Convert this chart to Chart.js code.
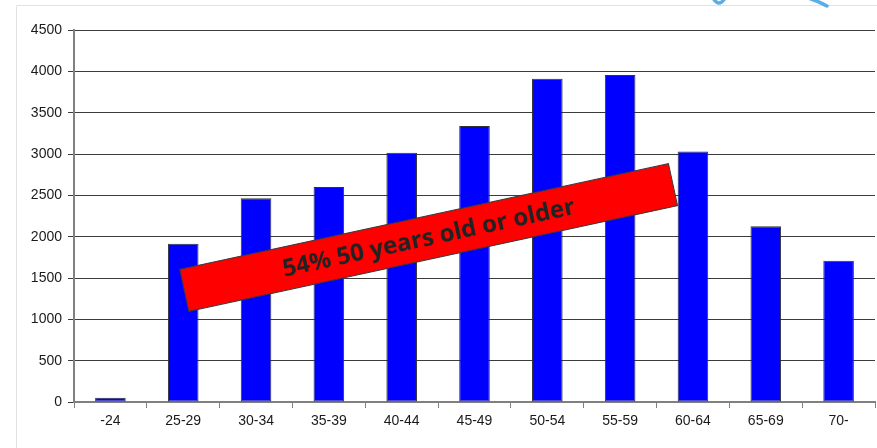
<!DOCTYPE html>
<html>
<head>
<meta charset="utf-8">
<script src="https://cdn.jsdelivr.net/npm/chart.js@4/dist/chart.umd.min.js"></script>
<style>
  html, body { margin: 0; padding: 0; background: #ffffff; }
  #wrap { width: 877px; height: 448px; position: relative; }
</style>
</head>
<body>
<div id="wrap"><canvas id="c" width="877" height="448"></canvas></div>
<script>
// ---- data ----
const categories = ["-24", "25-29", "30-34", "35-39", "40-44", "45-49", "50-54", "55-59", "60-64", "65-69", "70-"];
const counts = [50, 1915, 2465, 2600, 3015, 3340, 3910, 3955, 3030, 2125, 1710];
const yTicks = [0, 500, 1000, 1500, 2000, 2500, 3000, 3500, 4000, 4500];
const bannerText = "54% 50 years old or older";

const decoPlugin = {
  id: 'deco',
  beforeDraw(chart) {
    const ctx = chart.ctx;
    ctx.save();
    ctx.fillStyle = '#ffffff';
    ctx.fillRect(0, 0, chart.width, chart.height);
    // frame
    ctx.strokeStyle = '#e2e2e2';
    ctx.lineWidth = 1;
    ctx.beginPath();
    ctx.moveTo(16.5, chart.height);
    ctx.lineTo(16.5, 5.5);
    ctx.lineTo(chart.width, 5.5);
    ctx.stroke();
    // partial logo strokes at top
    ctx.strokeStyle = 'rgba(60,160,225,0.85)';
    ctx.lineWidth = 3.5;
    ctx.lineCap = 'round';
    ctx.beginPath();
    ctx.moveTo(713, -2); ctx.quadraticCurveTo(719, 8, 725, -2);
    ctx.stroke();
    ctx.beginPath();
    ctx.moveTo(808, -2); ctx.quadraticCurveTo(818, 1, 827, 6);
    ctx.stroke();
    ctx.restore();
  },
  afterDraw(chart) {
    const ctx = chart.ctx;
    const xs = chart.scales.x, ys = chart.scales.y;
    const cx = xs.getPixelForValue(4) + 0.37 * (xs.getPixelForValue(5) - xs.getPixelForValue(4));
    const cy = ys.getPixelForValue(1990);
    const w = 500, h = 43;
    ctx.save();
    ctx.translate(cx, cy);
    ctx.rotate(-12.2 * Math.PI / 180);
    ctx.fillStyle = '#ff0000';
    ctx.strokeStyle = '#3a3a3a';
    ctx.lineWidth = 1;
    ctx.fillRect(-w / 2, -h / 2, w, h);
    ctx.strokeRect(-w / 2, -h / 2, w, h);
    ctx.fillStyle = '#222222';
    ctx.font = 'bold 24px "Open Sans", "Noto Sans", sans-serif';
    ctx.textAlign = 'center';
    ctx.textBaseline = 'middle';
    ctx.fillText(bannerText, 0, 1);
    ctx.restore();
  }
};

new Chart(document.getElementById('c'), {
  type: 'bar',
  data: {
    labels: categories,
    datasets: [{
      data: counts,
      backgroundColor: '#0000ff',
      borderColor: '#333333',
      borderWidth: 1,
      borderSkipped: false,
      barPercentage: 0.42,
      categoryPercentage: 1.0
    }]
  },
  options: {
    responsive: false,
    animation: false,
    devicePixelRatio: 1,
    layout: { padding: { left: 0, right: 2, top: 30, bottom: 0 } },
    plugins: { legend: { display: false }, tooltip: { enabled: false } },
    scales: {
      x: {
        type: 'category',
        offset: true,
        grid: { offset: true, drawOnChartArea: false, drawTicks: true, tickLength: 6, color: '#808080', lineWidth: 1 },
        border: { display: true, color: '#808080', width: 2 },
        ticks: { color: '#1a1a1a', font: { family: '"Liberation Sans", Arial, sans-serif', size: 14 }, padding: 5, maxRotation: 0, autoSkip: false },
        afterFit(scale) { scale.height = 46; }
      },
      y: {
        min: 0, max: 4500,
        afterBuildTicks(scale) { scale.ticks = yTicks.map(v => ({ value: v })); },
        grid: { color: '#3c3c3c', lineWidth: 1, tickLength: 6, drawTicks: true },
        border: { display: true, color: '#808080', width: 2 },
        ticks: { color: '#1a1a1a', font: { family: '"Liberation Sans", Arial, sans-serif', size: 14 }, padding: 6, callback: (v) => String(v) },
        afterFit(scale) { scale.width = 74; }
      }
    }
  },
  plugins: [decoPlugin]
});
</script>
</body>
</html>
